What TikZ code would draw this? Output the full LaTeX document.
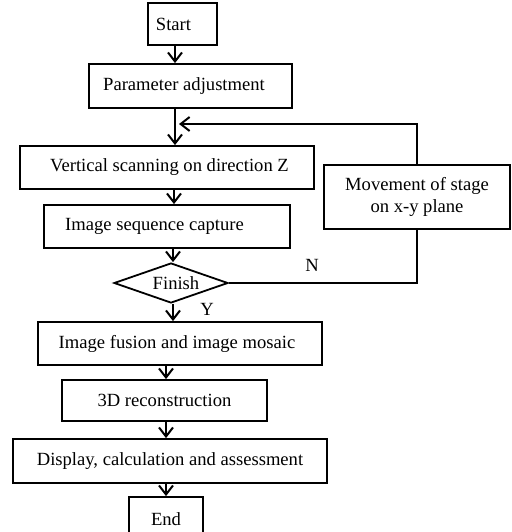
\documentclass[tikz,border=0pt]{standalone}
\usepackage{fontspec}
\setmainfont{Liberation Serif}
\usetikzlibrary{arrows.meta,shapes.geometric}
\begin{document}
\begin{tikzpicture}[x=1pt,y=-1pt,
  box/.style={draw,line width=1.8pt,inner sep=0pt,font=\fontsize{18.6}{22}\selectfont,align=center},
  lbl/.style={inner sep=0pt,font=\fontsize{18.6}{22}\selectfont},
  conn/.style={line width=2pt,-{Straight Barb[length=9pt,width=14pt,line width=2pt]}},
  plain/.style={line width=2pt}]
\useasboundingbox (0,0) rectangle (511,532);
% boxes
\node[box,minimum width=69pt,minimum height=42pt] (start) at (182.5,24) {Start\hspace{18pt}};
\node[box,minimum width=203pt,minimum height=44pt] (param) at (190.5,86) {Parameter adjustment\hspace{13pt}};
\node[box,minimum width=294pt,minimum height=43pt] (vertical) at (167,167.5) {\hspace{5pt}Vertical scanning on direction Z};
\node[box,minimum width=186pt,minimum height=64pt] (movement) at (417,197) {Movement of stage\\on x-y plane};
\node[box,minimum width=246pt,minimum height=43pt] (imseq) at (167,226.5) {Image sequence capture\hspace{25pt}};
\node[box,shape=diamond,aspect=2.85,minimum width=114pt,minimum height=40pt] (finish) at (171,283) {\hspace{10pt}Finish};
\node[box,minimum width=284pt,minimum height=43pt] (fusion) at (180,343.5) {Image fusion and image mosaic\hspace{6pt}};
\node[box,minimum width=205pt,minimum height=41pt] (recon) at (164.5,400.5) {3D reconstruction};
\node[box,minimum width=314pt,minimum height=44pt] (display) at (170,461) {Display, calculation and assessment};
\node[box,minimum width=74pt,minimum height=44pt] (end) at (166,519) {End};
% labels
\node[lbl] (nlab) at (312,265) {N};
\node[lbl] (ylab) at (207,309) {Y};
% helper coordinates
\coordinate (xa) at (175,0);
\coordinate (xb) at (174,0);
\coordinate (xc) at (173,0);
\coordinate (xd) at (166,0);
\coordinate (fb) at (179,124);
% connectors
\draw[conn] (start.south -| xa) -- (param.north -| xa);
\draw[conn] (param.south -| xa) -- (vertical.north -| xa);
\draw[conn] (movement.north) |- (fb);
\draw[conn] (vertical.south -| xb) -- (imseq.north -| xb);
\draw[conn] (imseq.south -| xc) -- (finish.north -| xc);
\draw[plain] (finish.east) -| (movement.south);
\draw[conn] (finish.south -| xc) -- (fusion.north -| xc);
\draw[conn] (fusion.south -| xd) -- (recon.north -| xd);
\draw[conn] (recon.south -| xd) -- (display.north -| xd);
\draw[conn] (display.south -| xd) -- (end.north -| xd);
\end{tikzpicture}
\end{document}
